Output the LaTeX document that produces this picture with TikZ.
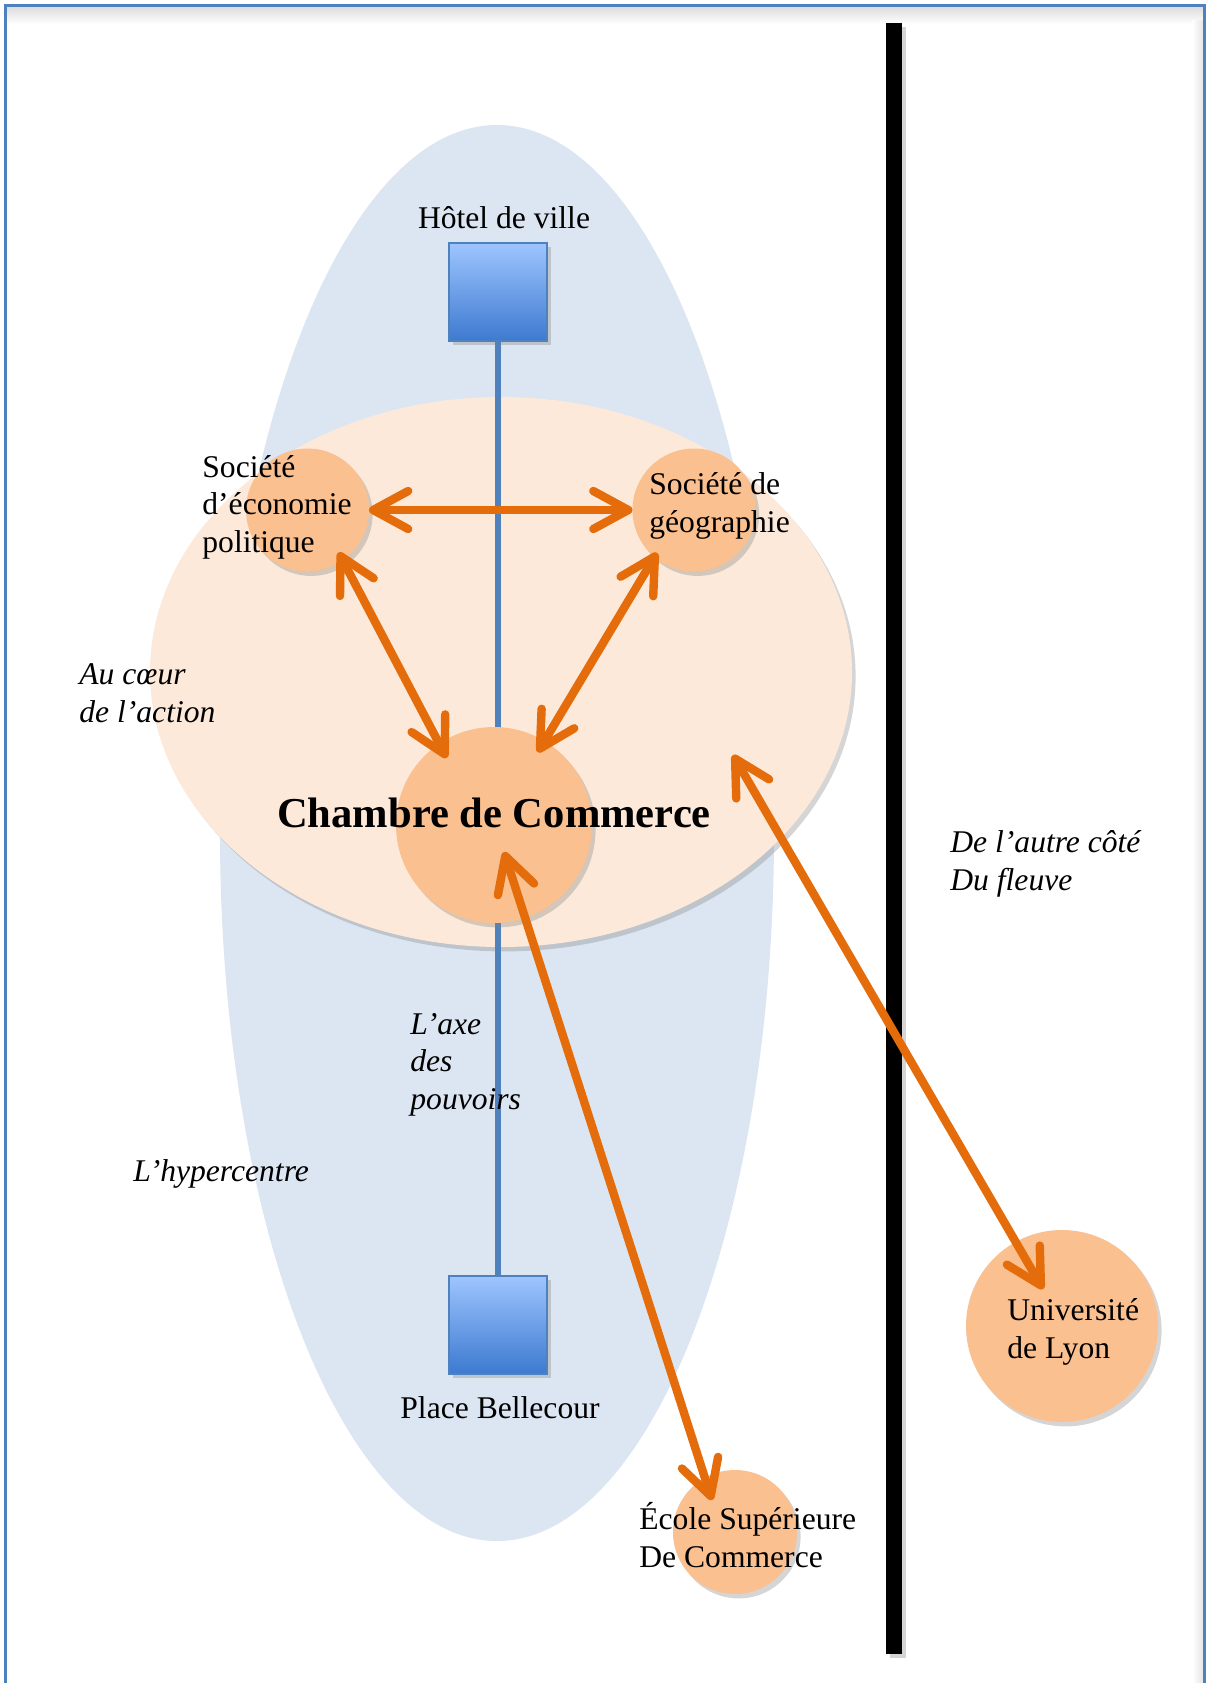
\documentclass[tikz,border=0pt]{standalone}
\usepackage{fontspec}
\setmainfont{Liberation Serif}
\usetikzlibrary{arrows.meta,shadows,calc}
\definecolor{hyperblue}{HTML}{DCE6F2}
\definecolor{peach}{HTML}{FDE9D9}
\definecolor{tanfill}{HTML}{FAC090}
\definecolor{arrorange}{HTML}{E46C0A}
\definecolor{steel}{HTML}{4F81BD}
\definecolor{sqtop}{HTML}{9EC5FF}
\definecolor{sqbot}{HTML}{3D7AD0}
\begin{document}
\begin{tikzpicture}[x=0.5pt,y=-0.5pt,
  lbl/.style={font=\fontsize{15.8pt}{18.6pt}\selectfont, inner sep=0pt, align=left},
  ilbl/.style={font=\fontsize{15.8pt}{18.6pt}\selectfont\itshape, inner sep=0pt, align=left},
  soft/.style={drop shadow={shadow xshift=1.8pt, shadow yshift=-2.2pt, opacity=0.33}},
  bubble/.style={circle, fill=tanfill, inner sep=0pt, outer sep=0pt, soft},
  place/.style={rectangle, minimum size=49pt, inner sep=0pt, outer sep=0pt, draw=steel, line width=1pt, top color=sqtop, bottom color=sqbot, soft},
  link/.style={draw=arrorange, line width=4.2pt, line cap=round, >={Straight Barb[length=17.5pt,width=19pt,round]}, <->},
]
\useasboundingbox (0,0) rectangle (1206,1683);
\fill[white] (0,0) rectangle (1206,1683);
% frame
\shade[top color=black!14, bottom color=white] (6,6) rectangle (1203,24);
\shade[left color=white, right color=black!10] (1192,20) rectangle (1203,1683);
\draw[steel, line width=1.5pt] (5,1683) -- (5,5) -- (1204,5) -- (1204,1683);

% zones
\fill[hyperblue] (497,833) ellipse [x radius=277, y radius=708];
\path[fill=peach, soft] (501,672) ellipse [x radius=351, y radius=275];

% places and axis
\node[place] (hdv) at (498,292) {};
\node[place] (pb) at (498,1324.5) {};
\draw[steel, line width=2.6pt] (hdv.south) -- (pb.north);

% river
\node[fill=black, minimum width=8pt, minimum height=815.5pt, inner sep=0pt, outer sep=0pt, soft] (river) at (894,838.5) {};

% institutions
\node[bubble, minimum size=98pt] (cdc) at (494,825) {};
\node[bubble, minimum size=61.5pt] (eco) at (307.5,510) {};
\node[bubble, minimum size=61.5pt] (geo) at (694,510) {};
\node[bubble, minimum size=96pt] (ul) at (1062,1326) {};
\node[bubble, minimum size=62pt] (esc) at (735,1532) {};

% arrows
\coordinate (cdcin) at (504,852);
\coordinate (escin) at (712,1500);
\coordinate (coeurpt) at (733,755);
\coordinate (ulin) at (1043,1289);
\draw[link] (eco.east) -- (geo.west);
\draw[link, shorten <=-4.5pt, shorten >=-8pt] (eco.-55) -- (cdc.124);
\draw[link, shorten <=-2.5pt, shorten >=-6.5pt] (geo.230) -- (cdc.59);
\draw[link] (cdcin) -- (escin);
\draw[link] (coeurpt) -- (ulin);

% texts (base anchor = last line baseline)
\node[lbl, anchor=base] (thdv) at (504,228) {Hôtel de ville};
\node[lbl, anchor=base] (tpb) at (500,1418) {Place Bellecour};
\node[lbl, anchor=base west] (teco) at (202,552) {Société\\d’économie\\politique};
\node[lbl, anchor=base west] (tgeo) at (649,532) {Société de\\géographie};
\node[font=\fontsize{21.3pt}{25pt}\selectfont\bfseries, inner sep=0pt, anchor=base] (tcdc) at (494,827) {Chambre de Commerce};
\node[lbl, anchor=base west] (tul) at (1007,1358) {Université\\de Lyon};
\node[lbl, anchor=base west] (tesc) at (639,1567) {École Supérieure\\De Commerce};
\node[ilbl, anchor=base west] (tcoeur) at (79,722) {Au cœur\\de l’action};
\node[ilbl, anchor=base west] (taxe) at (410,1109) {L’axe\\des\\pouvoirs};
\node[ilbl, anchor=base west] (thyp) at (133,1181) {L’hypercentre};
\node[ilbl, anchor=base west] (tfl) at (950,890) {De l’autre côté\\Du fleuve};
\end{tikzpicture}
\end{document}
